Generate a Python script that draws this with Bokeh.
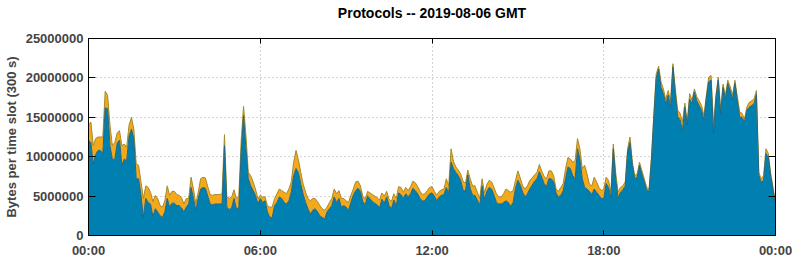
import pandas as pd
from bokeh.plotting import figure
from bokeh.models import (ColumnDataSource, Range1d, LinearAxis, DatetimeAxis,
                          FixedTicker, DatetimeTickFormatter, BasicTickFormatter,
                          CustomJSTickFormatter)
from bokeh.embed import file_html
from bokeh.resources import INLINE

# ---- data: bytes per 300 s slot, in millions (one row = one hour, 12 slots) ----
title_text = "Protocols -- 2019-08-06 GMT"
y_label = "Bytes per time slot (300 s)"
day_start = "2019-08-06 00:00"
slot_minutes = 5

blue_m = [
    12.1, 11.8, 9.1, 10.3, 10.8, 10.8, 10.4, 16.2, 16.1, 11.4, 9.7, 9.6,
    11.7, 12.1, 8.9, 9.7, 9.5, 12.6, 13.5, 12.3, 7.2, 7.2, 5.1, 2.3,
    4.7, 4.2, 4.0, 2.4, 3.4, 3.0, 2.5, 2.3, 3.0, 4.7, 3.6, 4.1,
    4.1, 3.8, 3.8, 3.5, 3.0, 3.6, 4.0, 6.1, 4.7, 3.2, 4.7, 5.9,
    6.1, 6.0, 5.0, 4.0, 3.9, 4.0, 4.0, 4.0, 4.0, 11.4, 3.6, 3.3,
    3.5, 4.7, 3.4, 3.5, 10.5, 15.2, 11.0, 7.2, 6.3, 5.7, 5.1, 4.0,
    4.7, 4.2, 4.4, 3.0, 2.3, 2.3, 3.8, 4.2, 4.9, 4.7, 4.2, 4.0,
    4.4, 5.5, 7.6, 8.5, 8.0, 6.5, 5.2, 4.2, 3.4, 2.7, 3.2, 3.4,
    3.0, 2.5, 2.3, 2.1, 3.0, 3.4, 3.8, 4.9, 4.2, 4.7, 3.6, 3.8,
    3.6, 3.2, 4.2, 5.1, 5.7, 6.0, 5.6, 4.3, 3.9, 5.0, 4.7, 4.3,
    4.1, 3.9, 3.5, 4.6, 4.1, 4.9, 3.8, 3.4, 4.5, 3.8, 5.4, 5.2,
    4.7, 5.3, 4.9, 5.3, 6.0, 5.7, 5.3, 4.7, 4.4, 4.4, 4.9, 5.3,
    5.4, 5.0, 4.4, 4.9, 5.1, 5.2, 6.1, 5.3, 9.3, 8.5, 8.0, 7.6,
    7.0, 5.8, 5.6, 7.7, 6.0, 5.1, 5.1, 4.5, 3.8, 6.3, 4.6, 5.6,
    6.1, 5.9, 5.1, 4.2, 4.0, 4.0, 4.2, 4.4, 4.2, 3.7, 4.2, 6.0,
    7.0, 6.4, 5.5, 4.9, 5.3, 5.9, 6.4, 6.9, 7.2, 8.1, 7.4, 6.6,
    6.2, 7.2, 7.2, 6.8, 5.4, 4.9, 5.1, 5.7, 7.2, 8.7, 8.5, 7.6,
    7.2, 11.0, 9.7, 7.2, 6.1, 5.9, 5.6, 5.2, 5.9, 5.5, 5.1, 4.7,
    4.7, 6.6, 6.1, 4.8, 11.0, 7.2, 4.7, 5.5, 5.8, 6.3, 10.6, 11.8,
    8.9, 7.2, 7.4, 8.9, 7.8, 6.8, 5.8, 5.6, 9.6, 15.0, 20.0, 21.1,
    18.8, 18.0, 16.7, 17.8, 16.3, 21.4, 18.0, 15.1, 14.7, 13.3, 16.3, 14.0,
    17.3, 16.8, 18.2, 17.1, 16.5, 15.9, 14.6, 17.4, 19.5, 19.7, 12.9, 17.3,
    19.7, 15.4, 18.8, 17.3, 19.3, 18.4, 17.3, 19.3, 17.1, 15.0, 15.0, 14.4,
    15.9, 16.3, 16.5, 16.7, 17.9, 7.6, 6.8, 7.0, 10.4, 9.9, 7.5, 5.7,
    3.8,
]

orange_m = [
    1.9, 2.6, 2.3, 2.0, 1.7, 1.7, 2.1, 2.1, 1.7, 2.6, 1.7, 2.2,
    1.3, 1.2, 2.5, 1.9, 1.7, 1.4, 1.5, 1.2, 1.9, 1.7, 1.7, 2.4,
    1.6, 1.9, 1.5, 1.9, 1.7, 1.7, 1.3, 1.3, 1.4, 1.6, 1.5, 1.5,
    1.5, 1.4, 1.3, 1.3, 1.0, 1.1, 0.7, 1.3, 1.2, 0.8, 0.8, 1.3,
    1.3, 1.3, 1.2, 1.2, 1.2, 1.2, 1.2, 1.2, 1.3, 1.4, 1.3, 1.4,
    1.4, 1.1, 1.3, 1.4, 1.5, 1.2, 1.7, 0.8, 1.3, 1.1, 0.8, 0.7,
    0.4, 0.7, 0.5, 0.8, 1.3, 1.3, 0.9, 1.1, 1.0, 1.0, 1.3, 1.3,
    1.5, 1.3, 1.7, 2.3, 1.6, 1.5, 1.3, 1.3, 1.3, 1.7, 1.5, 1.3,
    1.3, 1.3, 1.1, 1.1, 0.6, 0.8, 0.9, 1.0, 1.1, 1.0, 1.1, 0.9,
    0.8, 1.0, 0.9, 0.8, 1.1, 0.9, 0.7, 0.7, 0.7, 0.6, 0.7, 0.9,
    0.9, 0.9, 1.0, 0.8, 0.9, 0.7, 0.8, 0.9, 0.8, 0.9, 0.8, 0.9,
    0.8, 0.8, 0.8, 0.9, 0.9, 1.0, 0.9, 0.9, 0.8, 0.9, 0.8, 0.8,
    0.8, 0.6, 0.7, 0.7, 0.7, 0.7, 1.1, 1.0, 1.7, 0.9, 0.7, 0.7,
    0.8, 1.1, 1.0, 0.6, 1.2, 1.2, 1.2, 1.0, 0.9, 0.9, 0.8, 0.9,
    0.9, 0.9, 1.0, 1.1, 0.9, 0.9, 1.1, 1.5, 1.5, 1.8, 1.5, 1.0,
    1.2, 0.9, 0.8, 1.0, 1.0, 1.1, 0.9, 0.8, 0.8, 0.9, 0.8, 0.9,
    1.0, 1.0, 1.0, 0.8, 0.5, 0.7, 1.0, 0.9, 1.3, 1.2, 1.2, 1.7,
    2.3, 1.3, 1.3, 1.3, 2.8, 1.9, 0.9, 1.1, 1.5, 1.3, 1.0, 1.0,
    1.2, 0.8, 0.9, 0.7, 0.6, 0.8, 0.8, 0.6, 0.5, 0.5, 0.4, 0.7,
    0.4, 0.4, 0.4, 0.4, 0.4, 0.4, 0.3, 0.3, 0.4, 0.5, 0.5, 0.4,
    0.7, 0.6, 0.6, 0.6, 0.8, 0.4, 0.6, 0.8, 0.8, 1.1, 0.5, 0.4,
    0.7, 0.4, 0.4, 0.5, 0.6, 0.6, 0.6, 0.4, 0.6, 0.6, 1.1, 0.5,
    0.4, 0.6, 0.4, 0.5, 0.4, 0.5, 0.5, 0.4, 0.5, 0.7, 0.5, 0.4,
    0.4, 0.6, 0.6, 0.6, 0.5, 0.4, 0.4, 0.6, 0.6, 0.5, 0.4, 0.4,
    0.4,
]

y_ticks = [0, 5000000, 10000000, 15000000, 20000000, 25000000]
x_tick_hours = [0, 6, 12, 18, 24]

# ---- build ----
times = pd.date_range(day_start, periods=len(blue_m), freq=f"{slot_minutes}min")
blue = [v * 1e6 for v in blue_m]
total = [(b + o) * 1e6 for b, o in zip(blue_m, orange_m)]
src = ColumnDataSource(dict(t=times, blue=blue, total=total))

t0 = pd.Timestamp(day_start)
x_start = t0
x_end = t0 + pd.Timedelta(hours=24)
x_tick_ms = [(t0 + pd.Timedelta(hours=h)).value / 1e6 for h in x_tick_hours]

FONT = "Liberation Sans"
FS = "13px"

p = figure(width=795, height=260, x_axis_type="datetime",
           x_range=Range1d(x_start, x_end), y_range=Range1d(0, 25000000),
           output_backend="svg", toolbar_location=None,
           min_border_left=88, min_border_right=20,
           min_border_top=38, min_border_bottom=25)

p.background_fill_color = "white"
p.border_fill_color = "white"
p.outline_line_color = "black"
p.outline_line_width = 1
p.outline_line_alpha = 1

# areas
p.varea(x="t", y1=0, y2="blue", source=src, fill_color="#0080b0")
p.varea(x="t", y1="blue", y2="total", source=src, fill_color="#f4a81c")
p.line(x="t", y="total", source=src, line_color="#a58a2a", line_width=1)
p.line(x="t", y="blue", source=src, line_color="#1f6684", line_width=1)

# grid
yt = FixedTicker(ticks=y_ticks)
xt = FixedTicker(ticks=x_tick_ms)
p.ygrid.ticker = yt
p.xgrid.ticker = xt
for g in (p.xgrid, p.ygrid):
    g.grid_line_color = "#a8a8a8"
    g.grid_line_dash = "1 3"
    g.grid_line_width = 1

# left axis
ya = p.yaxis[0]
ya.ticker = yt
ya.formatter = BasicTickFormatter(use_scientific=False)
ya.axis_label = y_label
ya.axis_label_text_font = FONT
ya.axis_label_text_font_style = "bold"
ya.axis_label_text_font_size = FS
ya.axis_label_standoff = 4
ya.major_label_text_font = FONT
ya.major_label_text_font_style = "bold"
ya.major_label_text_font_size = FS
ya.major_label_standoff = 5
ya.major_tick_in = 7
ya.major_tick_out = 0
ya.minor_tick_in = 0
ya.minor_tick_out = 0
ya.axis_line_color = "black"

# bottom axis
xa = p.xaxis[0]
xa.ticker = xt
xa.formatter = DatetimeTickFormatter(hours="%H:%M", days="%H:%M", months="%H:%M",
                                     hourmin="%H:%M", minutes="%H:%M")
xa.major_label_text_font = FONT
xa.major_label_text_font_style = "bold"
xa.major_label_text_font_size = FS
xa.major_label_standoff = 7
xa.major_tick_in = 5
xa.major_tick_out = 0
xa.minor_tick_in = 0
xa.minor_tick_out = 0

# mirrored ticks (no labels): right and top; the top axis carries the chart title
blank = CustomJSTickFormatter(code="return ''")
ra = LinearAxis(ticker=yt, formatter=blank, major_tick_in=7, major_tick_out=0,
                minor_tick_in=0, minor_tick_out=0, major_label_standoff=0,
                major_label_text_color=None, axis_line_color="black")
p.add_layout(ra, "right")
ta = DatetimeAxis(ticker=xt, formatter=blank, major_tick_in=5, major_tick_out=0,
                  minor_tick_in=0, minor_tick_out=0, major_label_standoff=0,
                  major_label_text_color=None, axis_line_color="black",
                  axis_label=title_text, axis_label_standoff=18,
                  axis_label_text_font=FONT, axis_label_text_font_style="bold",
                  axis_label_text_font_size="14px", axis_label_text_color="black")
p.add_layout(ta, "above")

open("out.html", "w").write(file_html(p, INLINE))
